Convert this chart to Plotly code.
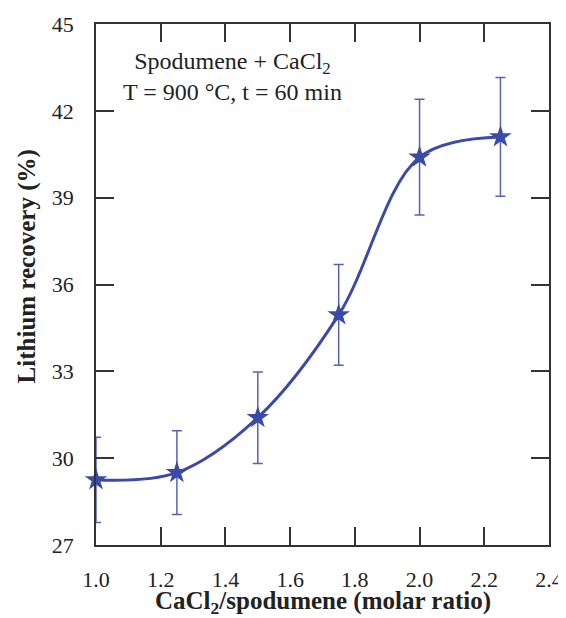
import plotly.graph_objects as go

ratio = [1.0, 1.25, 1.5, 1.75, 2.0, 2.25]
recovery = [29.25, 29.5, 31.4, 34.95, 40.4, 41.1]
error = [1.47, 1.45, 1.58, 1.74, 2.0, 2.05]

x_ticks = [1.0, 1.2, 1.4, 1.6, 1.8, 2.0, 2.2, 2.4]
y_ticks = [27, 30, 33, 36, 39, 42, 45]

line_col = "#3b4aa6"
err_col = "#5563b5"
font_fam = "Liberation Serif"
txt_col = "#222222"

fig = go.Figure()
fig.add_trace(go.Scatter(
    x=ratio, y=recovery,
    mode="lines+markers",
    line=dict(color=line_col, width=3, shape="spline", smoothing=1.0),
    marker=dict(symbol="star", size=17, color=line_col),
    error_y=dict(type="data", array=error, visible=True,
                 color=err_col, thickness=1.5, width=5),
    cliponaxis=False,
    showlegend=False,
))

axis_common = dict(
    showline=True, linecolor="#333333", linewidth=1.5,
    ticks="inside", ticklen=18, tickwidth=1.5, tickcolor="#333333",
    mirror="allticks", showgrid=False, zeroline=False, automargin=False,
    tickfont=dict(family=font_fam, size=22, color=txt_col),
)

fig.update_xaxes(
    range=[1.0, 2.4], tickvals=x_ticks,
    ticktext=[f"{v:.1f}" for v in x_ticks],
    ticklabelstandoff=14,
    **axis_common,
)
fig.update_yaxes(
    range=[27, 45], tickvals=y_ticks,
    ticklabelstandoff=16,
    **axis_common,
)

# axis titles
fig.add_annotation(
    xref="paper", yref="paper", x=0.5, y=-0.111,
    xanchor="center", yanchor="middle", showarrow=False,
    text="<b>CaCl<sub>2</sub>/spodumene (molar ratio)</b>",
    font=dict(family=font_fam, size=25, color=txt_col),
)
fig.add_annotation(
    xref="paper", yref="paper", x=-0.152, y=0.535,
    xanchor="center", yanchor="middle", textangle=-90, showarrow=False,
    text="<b>Lithium recovery (%)</b>",
    font=dict(family=font_fam, size=25, color=txt_col),
)

fig.add_annotation(
    xref="paper", yref="paper", x=0.302, y=0.957,
    xanchor="center", yanchor="top", align="center", showarrow=False,
    text="Spodumene + CaCl<sub>2</sub><br>T = 900 °C, t = 60 min",
    font=dict(family=font_fam, size=24, color=txt_col),
)

fig.update_layout(
    width=558, height=610,
    margin=dict(l=88, r=17, t=16, b=73),
    plot_bgcolor="white", paper_bgcolor="white",
)

fig.write_html("out.html")
